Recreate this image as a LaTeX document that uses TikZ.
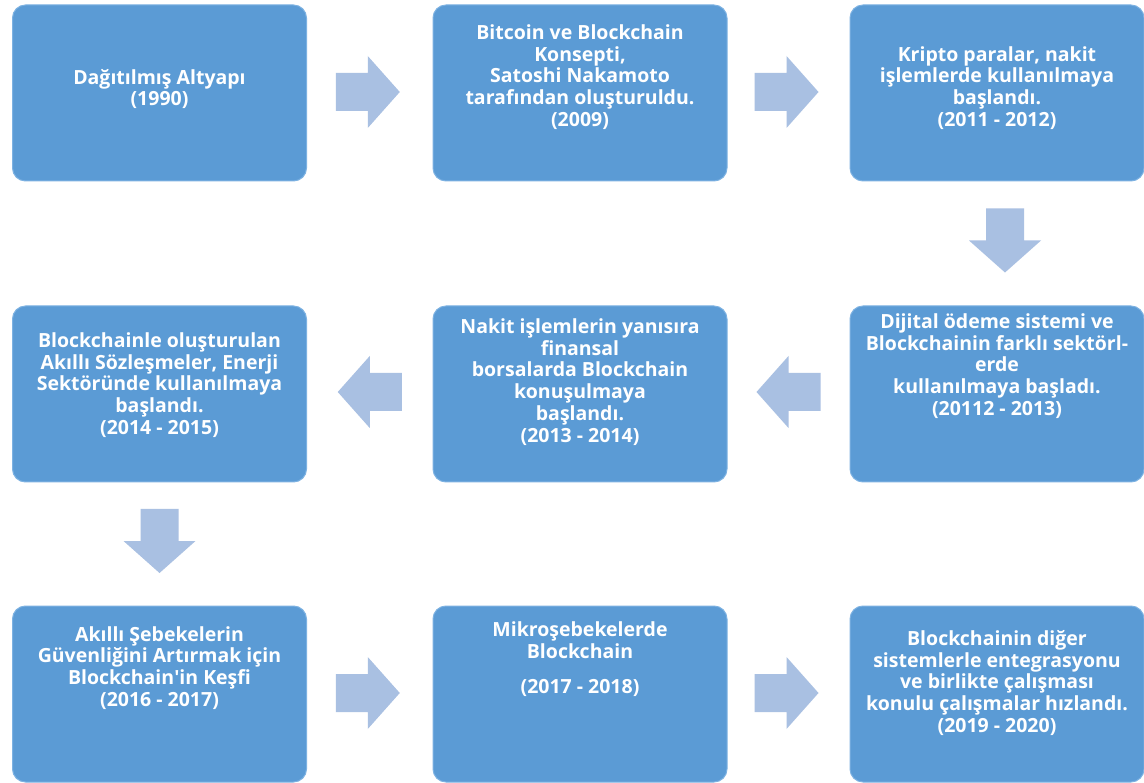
\documentclass[tikz,border=0pt]{standalone}
\usepackage{fontspec}
\setmainfont{Open Sans}
% same face without the TeX input mapping, for a straight apostrophe
\newfontfamily\straightquote{Open Sans}[Ligatures=ResetAll]
\usetikzlibrary{calc}
\definecolor{boxblue}{RGB}{91,155,213}
\definecolor{boxedge}{RGB}{125,178,226}
\definecolor{arrowblue}{RGB}{169,192,226}
\tikzset{
  stage/.style={rounded corners=13pt, fill=boxblue, draw=boxedge, line width=1pt,
    minimum width=294pt, minimum height=176pt, inner sep=0pt},
  stagetext/.style={text=white, align=center, inner sep=0pt,
    font=\bfseries\fontsize{19.5}{21.8}\selectfont},
  flowarrow/.style={fill=arrowblue}
}
% block arrow pointing along +x, centred on the origin
\newcommand{\blockarrowpath}{(-32,-19) -- (0,-19) -- (0,-36) -- (32,0) -- (0,36) -- (0,19) -- (-32,19) -- cycle}
\begin{document}
\begin{tikzpicture}[x=1pt,y=-1pt]
\useasboundingbox (0,0) rectangle (1144,783);
\fill[white] (0,0) rectangle (1144,783);

% stages
\node[stage] (b1) at (159.5,93) {};
\node[stage] (b2) at (580,93) {};
\node[stage] (b3) at (997,93) {};
\node[stage] (b4) at (159.5,394) {};
\node[stage] (b5) at (580,394) {};
\node[stage] (b6) at (997,394) {};
\node[stage] (b7) at (159.5,694) {};
\node[stage] (b8) at (580,694) {};
\node[stage] (b9) at (997,694) {};

% stage texts
\node[stagetext] (t1) at ($(b1.center)+(0,-4)$) {Dağıtılmış Altyapı\\(1990)};
\node[stagetext] (t2) at ($(b2.center)+(0,-16)$) {Bitcoin ve Blockchain\\Konsepti,\\Satoshi Nakamoto\\tarafından oluşturuldu.\\(2009)};
\node[stagetext] (t3) at ($(b3.center)+(0,-5)$) {Kripto paralar, nakit\\işlemlerde kullanılmaya\\başlandı.\\(2011 - 2012)};
\node[stagetext] (t4) at ($(b4.center)+(0,-9)$) {Blockchainle oluşturulan\\Akıllı Sözleşmeler, Enerji\\Sektöründe kullanılmaya\\başlandı.\\(2014 - 2015)};
\node[stagetext] (t5) at ($(b5.center)+(0,-12)$) {Nakit işlemlerin yanısıra\\finansal\\borsalarda Blockchain\\konuşulmaya\\başlandı.\\(2013 - 2014)};
\node[stagetext] (t6) at ($(b6.center)+(0,-28)$) {Dijital ödeme sistemi ve\\Blockchainin farklı sektörl-\\erde\\kullanılmaya başladı.\\(20112 - 2013)};
\node[stagetext] (t7) at ($(b7.center)+(0,-26)$) {Akıllı Şebekelerin\\Güvenliğini Artırmak için\\Blockchain{\straightquote\bfseries'}in Keşfi\\(2016 - 2017)};
\node[stagetext] (t8) at ($(b8.center)+(0,-35)$) {Mikroşebekelerde\\Blockchain\\[13.5pt](2017 - 2018)};
\node[stagetext] (t9) at ($(b9.center)+(0,-11)$) {Blockchainin diğer\\sistemlerle entegrasyonu\\ve birlikte çalışması\\konulu çalışmalar hızlandı.\\(2019 - 2020)};

% arrow anchors between consecutive stages
\coordinate (a12) at ($(b1.east)!0.5!(b2.west)+(-2,-1)$);
\coordinate (a23) at ($(b2.east)!0.5!(b3.west)+(-2,-1)$);
\coordinate (a36) at ($(b3.south)!0.5!(b6.north)+(8,-3)$);
\coordinate (a65) at ($(b6.west)!0.5!(b5.east)+(0,-2)$);
\coordinate (a54) at ($(b5.west)!0.5!(b4.east)+(0,-2)$);
\coordinate (a47) at ($(b4.south)!0.5!(b7.north)+(0,-3)$);
\coordinate (a78) at ($(b7.east)!0.5!(b8.west)+(-2,-1)$);
\coordinate (a89) at ($(b8.east)!0.5!(b9.west)+(-2,-1)$);

\fill[flowarrow, shift={(a12)}] \blockarrowpath;
\fill[flowarrow, shift={(a23)}] \blockarrowpath;
\fill[flowarrow, shift={(a36)}, rotate=-90] \blockarrowpath;
\fill[flowarrow, shift={(a65)}, rotate=180] \blockarrowpath;
\fill[flowarrow, shift={(a54)}, rotate=180] \blockarrowpath;
\fill[flowarrow, shift={(a47)}, rotate=-90] \blockarrowpath;
\fill[flowarrow, shift={(a78)}] \blockarrowpath;
\fill[flowarrow, shift={(a89)}] \blockarrowpath;
\end{tikzpicture}
\end{document}
